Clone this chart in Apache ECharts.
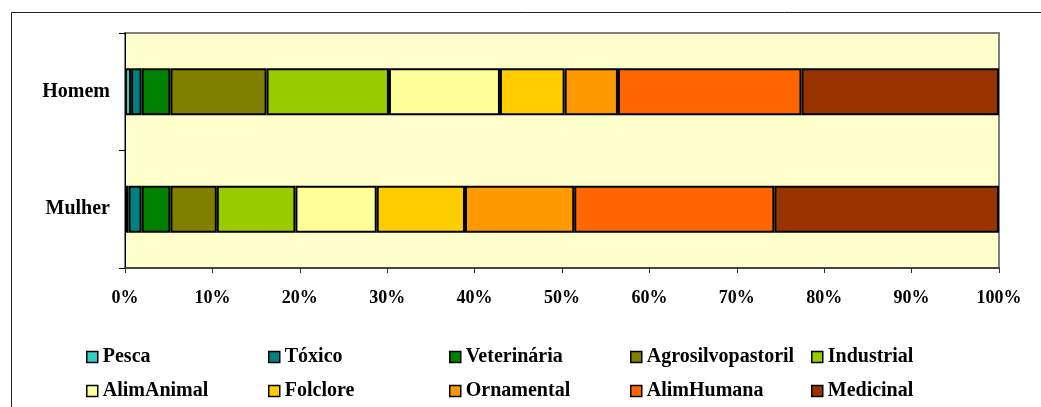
<!DOCTYPE html>
<html>
<head>
<meta charset="utf-8">
<script src="https://cdn.jsdelivr.net/npm/echarts@6/dist/echarts.min.js"></script>
<style>
html,body{margin:0;padding:0;background:#fff;}
#chart{width:1041px;height:407px;}
</style>
</head>
<body>
<div id="chart"></div>
<script>
const categories = ['Mulher', 'Homem'];
const seriesNames = ['Pesca', 'Tóxico', 'Veterinária', 'Agrosilvopastoril', 'Industrial',
                     'AlimAnimal', 'Folclore', 'Ornamental', 'AlimHumana', 'Medicinal'];
const colors = ['#33CCCC', '#008080', '#008000', '#808000', '#99CC00',
                '#FFFF99', '#FFCC00', '#FF9900', '#FF6600', '#993300'];
// values per series: [Mulher, Homem] (percent)
const pesca = [0.4, 0.7];
const toxico = [1.5, 1.2];
const veterinaria = [3.3, 3.3];
const agrosilvopastoril = [5.3, 11.0];
const industrial = [9.0, 14.0];
const alimAnimal = [9.3, 12.7];
const folclore = [10.1, 7.4];
const ornamental = [12.5, 6.1];
const alimHumana = [22.9, 21.0];
const medicinal = [25.7, 22.6];
const xTicks = { min: 0, max: 100, interval: 10 };

const values = [pesca, toxico, veterinaria, agrosilvopastoril, industrial,
                alimAnimal, folclore, ornamental, alimHumana, medicinal];

const FONT = '"Liberation Serif", "Times New Roman", serif';

const chart = echarts.init(document.getElementById('chart'), null, { renderer: 'canvas' });

const series = seriesNames.map((name, i) => ({
  name: name,
  type: 'bar',
  stack: 'total',
  barWidth: 47,
  data: values[i],
  itemStyle: { color: colors[i], borderColor: '#000', borderWidth: 2 },
  emphasis: { disabled: true }
}));

// legend laid out as a 5-column, 2-row grid
const legendCols = [86, 268, 449, 630, 811];
const legendRows = [347, 381];
const legends = seriesNames.map((name, i) => ({
  orient: 'horizontal',
  left: legendCols[i % 5],
  top: legendRows[Math.floor(i / 5)],
  padding: 0,
  itemGap: 0,
  itemWidth: 11,
  itemHeight: 11,
  icon: 'rect',
  itemStyle: { borderColor: '#000', borderWidth: 1.5 },
  textStyle: { fontFamily: FONT, fontWeight: 'bold', fontSize: 20, color: '#000' },
  selectedMode: false,
  data: [name]
}));

chart.setOption({
  animation: false,
  backgroundColor: '#fff',
  color: colors,
  graphic: [{
    type: 'rect',
    shape: { x: 11.5, y: 12.5, width: 1200, height: 600 },
    style: { fill: 'none', stroke: '#222', lineWidth: 1 },
    silent: true,
    z: -10
  }],
  grid: {
    left: 125, right: 42, top: 33, bottom: 139,
    show: true, backgroundColor: '#FFFFCC', borderColor: '#808080', borderWidth: 2
  },
  legend: legends,
  xAxis: {
    type: 'value',
    min: xTicks.min, max: xTicks.max, interval: xTicks.interval,
    axisLine: { show: true, lineStyle: { color: '#333', width: 1.5 } },
    axisTick: { show: true, length: 5, lineStyle: { color: '#333', width: 1 } },
    splitLine: { show: false },
    axisLabel: {
      formatter: '{value}%', margin: 21,
      fontFamily: FONT, fontWeight: 'bold', fontSize: 18, color: '#000'
    }
  },
  yAxis: {
    type: 'category',
    data: categories,
    axisLine: { show: true, lineStyle: { color: '#000', width: 1 } },
    axisTick: { show: true, length: 6, lineStyle: { color: '#000' } },
    splitLine: { show: false },
    axisLabel: {
      margin: 15,
      fontFamily: FONT, fontWeight: 'bold', fontSize: 20, color: '#000'
    }
  },
  series: series
});
</script>
</body>
</html>
